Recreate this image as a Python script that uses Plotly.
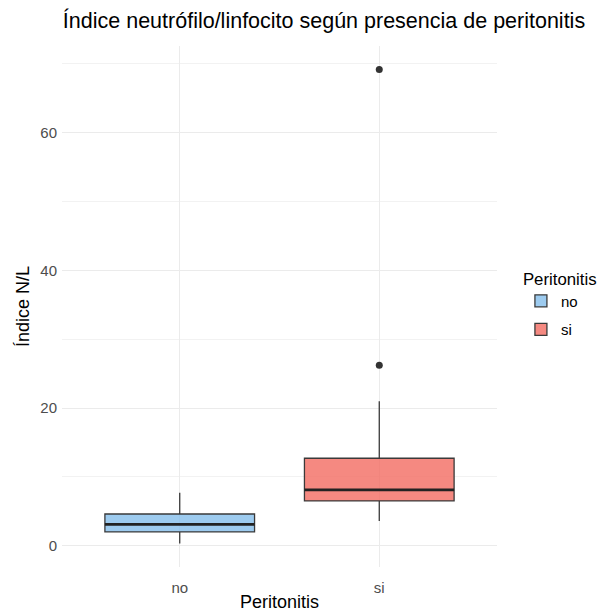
import plotly.graph_objects as go

groups = ["no", "si"]
q1 = [2.0, 6.5]
median = [3.1, 8.1]
q3 = [4.6, 12.7]
lower_fence = [0.3, 3.6]
upper_fence = [7.7, 21.0]
outlier_groups = ["si", "si"]
outlier_values = [26.2, 69.2]
fills = ["rgba(133,190,235,0.8)", "rgba(242,108,98,0.8)"]

LINE = "#3a3a3a"
GRID = "#EBEBEB"
FONT = "Liberation Sans, Arial, sans-serif"

fig = go.Figure()
for i, g in enumerate(groups):
    fig.add_trace(go.Box(
        x=[g], q1=[q1[i]], median=[median[i]], q3=[q3[i]],
        lowerfence=[lower_fence[i]], upperfence=[upper_fence[i]],
        name=g, fillcolor=fills[i], line=dict(color=LINE, width=1.3),
        width=0.75, whiskerwidth=0, boxpoints=False, legendgroup=g, showlegend=True,
    ))
    # thicker median line, as in ggplot
    fig.add_trace(go.Box(
        x=[g], q1=[median[i]], median=[median[i]], q3=[median[i]],
        lowerfence=[median[i]], upperfence=[median[i]],
        name=g, fillcolor="rgba(0,0,0,0)", line=dict(color="#222222", width=2.6),
        width=0.75, whiskerwidth=0, boxpoints=False, showlegend=False,
        hoverinfo="skip", legendgroup=g,
    ))

fig.add_trace(go.Scatter(
    x=outlier_groups, y=outlier_values, mode="markers",
    marker=dict(color="#333333", size=7), showlegend=False,
))

fig.update_layout(
    width=613, height=611,
    margin=dict(l=54, r=124, t=38, b=52),
    paper_bgcolor="white", plot_bgcolor="white",
    font=dict(family=FONT, color="#4D4D4D"),
    boxmode="overlay",
    title=dict(text="Índice neutrófilo/linfocito según presencia de peritonitis",
               x=0.002, xanchor="left", xref="paper", y=1 - 12 / 611, yanchor="middle",
               font=dict(size=21.5, color="black", family=FONT)),
    legend=dict(title=dict(text="Peritonitis", font=dict(size=16.8, color="black")),
                x=1.055, xanchor="left", y=0.584, yanchor="top",
                font=dict(size=15, color="black"), tracegroupgap=6),
    xaxis=dict(type="category", categoryorder="array", categoryarray=groups,
               range=[-0.59, 1.59], showgrid=True, gridcolor=GRID, gridwidth=1,
               zeroline=False, showline=False, ticks="", automargin=False,
               tickfont=dict(size=15, color="#4D4D4D"), ticklabelstandoff=10,
               title=dict(text="Peritonitis", font=dict(size=18, color="black"), standoff=0)),
    yaxis=dict(range=[-3.1, 72.6], dtick=20, tick0=0, showgrid=True, gridcolor=GRID,
               gridwidth=1.2, zeroline=False, showline=False, ticks="", automargin=False,
               minor=dict(dtick=10, tick0=0, showgrid=True, gridcolor="#F2F2F2", gridwidth=1),
               tickfont=dict(size=15, color="#4D4D4D"), ticklabelstandoff=4,
               title=dict(text="Índice N/L", font=dict(size=18, color="black"), standoff=6)),
)

fig.write_html("out.html")
